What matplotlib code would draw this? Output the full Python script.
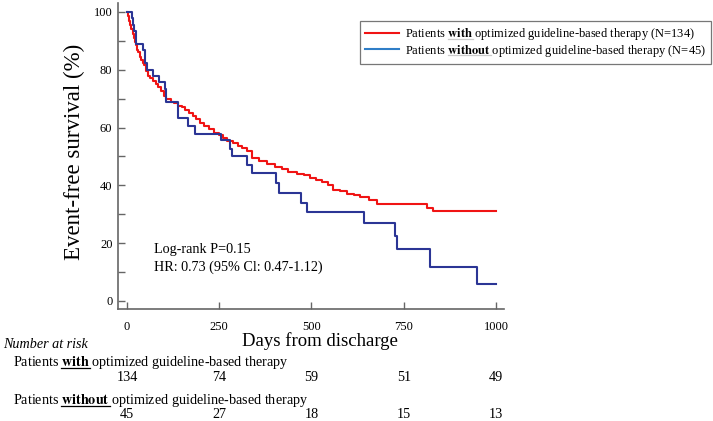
import numpy as np
import matplotlib
matplotlib.use('Agg')
import matplotlib.pyplot as plt
from matplotlib.lines import Line2D
from matplotlib.transforms import blended_transform_factory

plt.rcParams['font.family'] = 'Liberation Serif'
plt.rcParams['mathtext.fontset'] = 'stix'

# Kaplan-Meier steps
with_t = [0, 3, 6, 9, 12, 15, 18, 21, 24, 27, 31, 35, 39, 43, 47, 51, 56, 62, 70, 78,
          85, 93, 100, 107, 118, 128, 138, 148, 158, 168, 178, 188, 198, 210, 222, 235, 248, 260, 272, 288,
          300, 312, 325, 338, 358, 379, 400, 420, 437, 460, 480, 496, 512, 528, 545, 559, 578, 596, 615, 631,
          655, 677, 812, 830, 1000]
with_s = [100, 98.5, 97, 95.5, 94, 92.5, 91, 89.5, 88.5, 87, 86, 84.5, 83.5, 82.5, 81.5, 79.5, 78, 77, 76, 75,
          74, 72.5, 71, 70, 69, 68.5, 67.5, 67, 66, 65, 64, 63, 61.5, 60.5, 59.5, 58, 57.5, 56.5, 55.5, 54.5,
          53.5, 53, 52, 49.5, 48.5, 47.5, 46.5, 45.5, 44.5, 44, 43.5, 42.5, 42, 41, 40, 38.5, 38, 37, 36.5, 36,
          35, 33.5, 32, 31, 31]
without_t = [0, 13, 16, 20, 24, 44, 49, 53, 71, 88, 103, 107, 137, 166, 184, 256, 279, 284, 324, 338,
             405, 413, 472, 487, 641, 726, 731, 821, 948, 1000]
without_s = [100, 97.8, 95.6, 93.3, 88.9, 86.7, 82.2, 80.0, 77.8, 75.6, 73.3, 68.9, 63.3, 60.5, 57.8, 55.6, 52.5, 50.0, 47.2, 44.4,
             40.8, 37.3, 33.9, 30.6, 26.9, 22.4, 17.9, 11.9, 6.0, 6.0]

risk_days = [0, 250, 500, 750, 1000]
at_risk_with = [134, 74, 59, 51, 49]
at_risk_without = [45, 27, 18, 15, 13]

W, H = 713, 421
fig = plt.figure(figsize=(W / 100, H / 100), dpi=100)
ax = fig.add_axes([118 / W, 1 - 309 / H, 386 / W, 306 / H])

ax.step(with_t, with_s, where='post', color='#f01414', lw=1.5)
ax.step(without_t, without_s, where='post', color='#2b3595', lw=1.5)

ax.set_xlim(-24.4, 1021.7)
ax.set_ylim(-2.8, 103.1)
ax.set_xticks(risk_days)
ax.set_yticks(np.arange(0, 101, 20))
ax.set_yticks(np.arange(10, 100, 20), minor=True)
for s in ['top', 'right']:
    ax.spines[s].set_visible(False)
for s in ['left', 'bottom']:
    ax.spines[s].set_color('#666666')
    ax.spines[s].set_linewidth(1.2)
ax.tick_params(axis='both', which='both', direction='in', length=5, width=1, color='#666666', labelsize=9)
ax.tick_params(axis='x', pad=9)
ax.tick_params(axis='y', pad=4)

fig.text(74 / W, 1 - 152 / H, 'Event-free survival (%)', rotation=90, ha='center', va='center', fontsize=16.5)
fig.text(320 / W, 1 - 341 / H, 'Days from discharge', ha='center', va='center', fontsize=13.5)

ax.text(0.093, 0.196, 'Log-rank P=0.15', transform=ax.transAxes, ha='left', va='center', fontsize=10.2)
ax.text(0.093, 0.137, 'HR: 0.73 (95% Cl: 0.47-1.12)', transform=ax.transAxes, ha='left', va='center', fontsize=10.2)

# legend
handles = [Line2D([], [], color='#f01414', lw=1.5), Line2D([], [], color='#2f7ec7', lw=1.5)]
labels = [r'Patients $\mathbf{with}$ optimized guideline-based therapy (N=134)',
          r'Patients $\mathbf{without}$ optimized guideline-based therapy (N=45)']
leg = fig.legend(handles, labels, loc='upper right', bbox_to_anchor=(711 / W, 1 - 21 / H),
                 fontsize=9.0, frameon=True, fancybox=False, edgecolor='#555555',
                 handlelength=2.7, handletextpad=0.5, borderpad=0.4, labelspacing=0.05, borderaxespad=0)
leg.get_frame().set_linewidth(0.9)

# number at risk table
fig.text(3 / W, 1 - 348 / H, 'Number at risk', style='italic', ha='left', va='baseline', fontsize=10.2)
row1 = fig.text(13 / W, 1 - 366 / H, labels[0][:-8], ha='left', va='baseline', fontsize=10.2)
row2 = fig.text(13 / W, 1 - 404 / H, labels[1][:-7], ha='left', va='baseline', fontsize=10.2)
tr = blended_transform_factory(ax.transData, fig.transFigure)
for d, n in zip(risk_days, at_risk_with):
    ax.text(d, 1 - 381 / H, str(n), transform=tr, ha='center', va='baseline', fontsize=10.2)
for d, n in zip(risk_days, at_risk_without):
    ax.text(d, 1 - 418.5 / H, str(n), transform=tr, ha='center', va='baseline', fontsize=10.2)

# underline the bold words
fig.canvas.draw()
rend = fig.canvas.get_renderer()


def width_of(s, size):
    t = fig.text(0, 0, s, fontsize=size)
    w = t.get_window_extent(rend).width
    t.remove()
    return w


def underline(txt, word):
    size = txt.get_fontsize()
    x0, y0 = txt.get_transform().transform(txt.get_position())
    pre = 'Patients $\\mathbf{' + word + '}$'
    w_all = width_of(pre, size)
    w_word = width_of('$\\mathbf{' + word + '}$', size)
    xa = x0 + w_all - w_word
    xb = x0 + w_all
    yy = y0 - 1.8
    fig.add_artist(Line2D([xa / W, xb / W], [yy / H, yy / H], color='black', lw=0.9,
                          transform=fig.transFigure))


lt = leg.get_texts()
underline(lt[0], 'with')
underline(lt[1], 'without')
underline(row1, 'with')
underline(row2, 'without')

fig.savefig('out.png', dpi=100)
